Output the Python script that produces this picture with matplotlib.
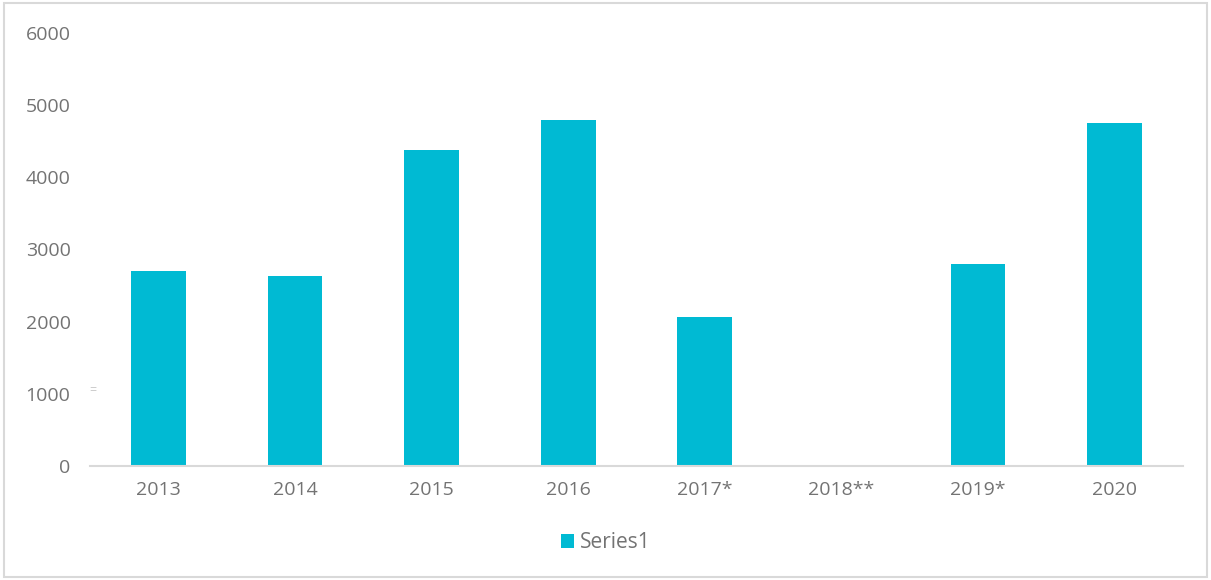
import matplotlib.pyplot as plt
from matplotlib.patches import Rectangle

# data
years = ['2013', '2014', '2015', '2016', '2017*', '2018**', '2019*', '2020']
values = [2700, 2630, 4380, 4800, 2065, 0, 2800, 4750]
yticks = [0, 1000, 2000, 3000, 4000, 5000, 6000]

bar_color = '#00BAD3'
text_color = '#737373'

plt.rcParams['font.family'] = ['Open Sans', 'DejaVu Sans']

fig = plt.figure(figsize=(12.11, 5.80), dpi=100)
ax = fig.add_axes([90 / 1211, 1 - 466 / 580, (1183 - 90) / 1211, (466 - 33) / 580])

x = range(len(years))
ax.bar(x, values, width=0.4, color=bar_color, label='Series1', zorder=2)

ax.set_xlim(-0.5, len(years) - 0.5)
ax.set_ylim(0, 6000)
ax.set_xticks(list(x))
ax.set_xticklabels(years)
ax.set_yticks(yticks)
ax.tick_params(axis='both', length=0, labelsize=14, colors=text_color)
ax.tick_params(axis='x', pad=11)
ax.tick_params(axis='y', pad=14)

for side in ['top', 'right', 'left']:
    ax.spines[side].set_visible(False)
ax.spines['bottom'].set_color('#d9d9d9')
ax.spines['bottom'].set_linewidth(1.5)

leg = fig.legend(loc='center', bbox_to_anchor=(0.5, 1 - 543 / 580), frameon=False,
                 fontsize=15, handlelength=0.65, handleheight=0.65, handletextpad=0.25)
for t in leg.get_texts():
    t.set_color(text_color)

# small stray mark left of the axis
fig.text(93 / 1211, 1 - 391 / 580, '=', color='#c8c8c8', fontsize=9, ha='center', va='center')

# outer chart border
fig.patches.append(Rectangle((4 / 1211, 3 / 580), 1203 / 1211, 574 / 580, transform=fig.transFigure,
                             fill=False, edgecolor='#d9d9d9', linewidth=1.5))

fig.savefig('out.png', dpi=100)
